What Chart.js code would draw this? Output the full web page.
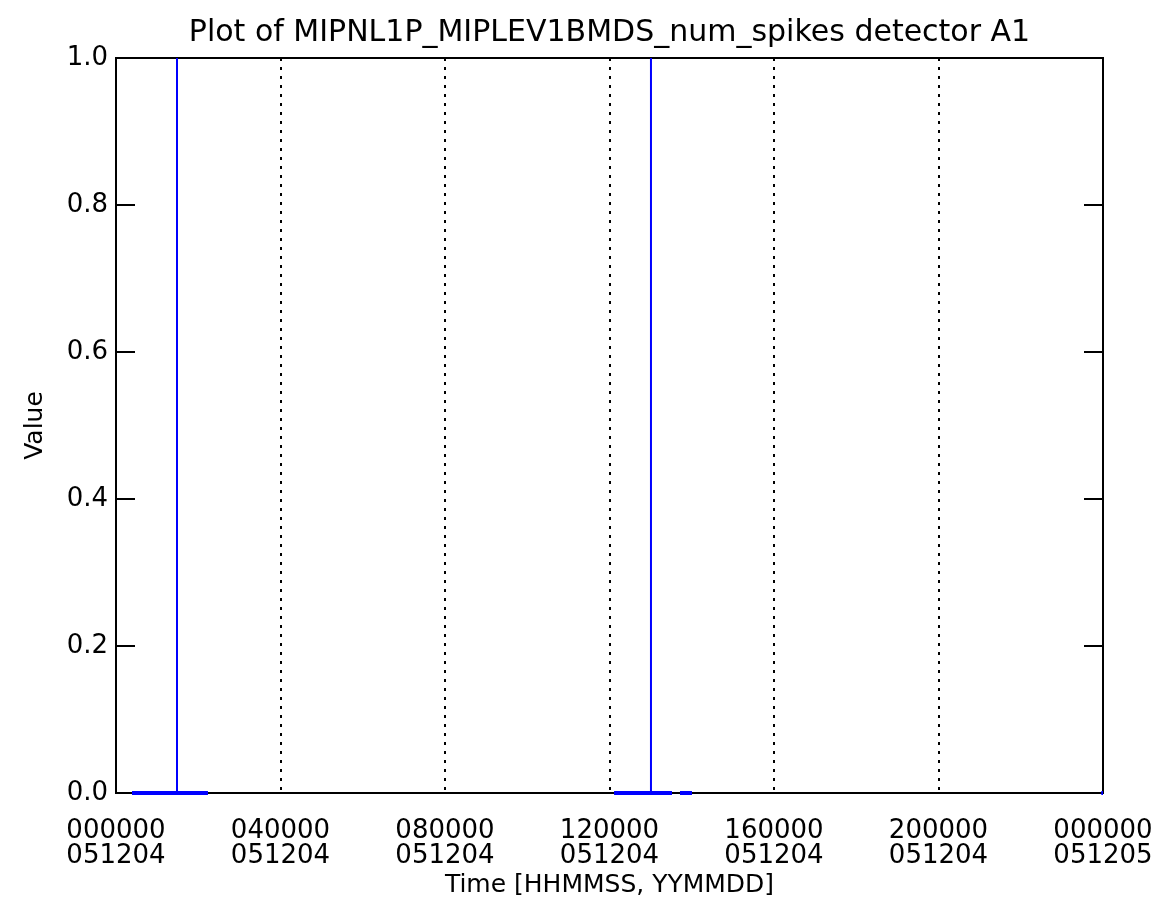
<!DOCTYPE html>
<html>
<head>
<meta charset="utf-8">
<script src="https://cdn.jsdelivr.net/npm/chart.js@4"></script>
<style>
  html, body { margin: 0; padding: 0; background: #fff; }
  #wrap { width: 1160px; height: 907px; }
</style>
</head>
<body>
<div id="wrap"><canvas id="plot" width="1160" height="907"></canvas></div>
<script>
// time in seconds since 000000 051204
const xTickValues = [0, 14400, 28800, 43200, 57600, 72000, 86400];
const xTickLabels = [
    ['000000', '051204'], ['040000', '051204'], ['080000', '051204'],
    ['120000', '051204'], ['160000', '051204'], ['200000', '051204'],
    ['000000', '051205']
];
const yTickValues = [0, 0.2, 0.4, 0.6, 0.8, 1.0];

// stretches of samples sitting at 0
const zeroStart = [1400, 43600, 49370, 86250];
const zeroEnd = [8050, 48670, 50420, 86400];
// single spikes
const spikeTimes = [5340, 46830];
const spikeValues = [1, 1];

const zeroPoints = [];
zeroStart.forEach((s, i) => {
    zeroPoints.push({x: s, y: 0}, {x: zeroEnd[i], y: 0}, {x: zeroEnd[i], y: null});
});
const spikePoints = [];
spikeTimes.forEach((t, i) => {
    spikePoints.push({x: t, y: 0}, {x: t, y: spikeValues[i]}, {x: t, y: null});
});

const FONT = 'DejaVu Sans';

const framePlugin = {
    id: 'frame',
    beforeDatasetsDraw(chart) {
        const {ctx, chartArea: a, scales} = chart;
        ctx.save();
        ctx.strokeStyle = '#000';
        ctx.lineWidth = 2;
        ctx.strokeRect(a.left, a.top, a.right - a.left, a.bottom - a.top);
        // inward tick marks on both vertical sides
        scales.y.ticks.forEach(t => {
            const py = scales.y.getPixelForValue(t.value);
            ctx.beginPath();
            ctx.moveTo(a.left, py); ctx.lineTo(a.left + 19, py);
            ctx.moveTo(a.right - 19, py); ctx.lineTo(a.right, py);
            ctx.stroke();
        });
        ctx.restore();
    }
};

new Chart(document.getElementById('plot'), {
    type: 'scatter',
    data: {
        datasets: [{
            data: zeroPoints,
            showLine: true,
            spanGaps: false,
            borderColor: '#0000ff',
            borderWidth: 4,
            pointRadius: 0,
            clip: false
        }, {
            data: spikePoints,
            showLine: true,
            spanGaps: false,
            borderColor: '#0000ff',
            borderWidth: 2,
            pointRadius: 0,
            clip: false
        }]
    },
    options: {
        responsive: false,
        animation: false,
        layout: { padding: 0 },
        plugins: {
            legend: { display: false },
            tooltip: { enabled: false },
            title: {
                display: true,
                fullSize: false,
                text: 'Plot of MIPNL1P_MIPLEV1BMDS_num_spikes detector A1',
                color: '#000',
                font: { family: FONT, size: 30, weight: 'normal', lineHeight: 1.2 },
                padding: { top: 15, bottom: 7 }
            }
        },
        scales: {
            x: {
                type: 'linear',
                min: 0,
                max: 86400,
                afterBuildTicks(scale) {
                    scale.ticks = xTickValues.map(v => ({value: v}));
                },
                afterFit(scale) {
                    scale.height = 114;
                    scale.paddingRight = 57;
                },
                ticks: {
                    autoSkip: false,
                    maxRotation: 0,
                    minRotation: 0,
                    color: '#000',
                    padding: 26,
                    font: { family: FONT, size: 26, lineHeight: 0.96 },
                    callback: (v, i) => xTickLabels[i]
                },
                grid: {
                    drawTicks: false,
                    lineWidth: 2,
                    color: c => (c.index === 0 || c.index === xTickValues.length - 1) ? 'rgba(0,0,0,0)' : '#000'
                },
                border: { display: false, dash: [3, 6] },
                title: {
                    display: true,
                    text: 'Time [HHMMSS, YYMMDD]',
                    color: '#000',
                    font: { family: FONT, size: 25, lineHeight: 1.2 },
                    padding: { top: 0, bottom: 7 }
                }
            },
            y: {
                min: 0,
                max: 1,
                afterBuildTicks(scale) {
                    scale.ticks = yTickValues.map(v => ({value: v}));
                },
                afterFit(scale) { scale.width = 116; },
                ticks: {
                    color: '#000',
                    padding: 8,
                    font: { family: FONT, size: 26 },
                    callback: v => v.toFixed(1)
                },
                grid: { display: false, drawTicks: false },
                border: { display: false },
                title: {
                    display: true,
                    text: 'Value',
                    color: '#000',
                    font: { family: FONT, size: 25, lineHeight: 1.2 },
                    padding: { top: 20, bottom: 0 }
                }
            }
        }
    },
    plugins: [framePlugin]
});
</script>
</body>
</html>
